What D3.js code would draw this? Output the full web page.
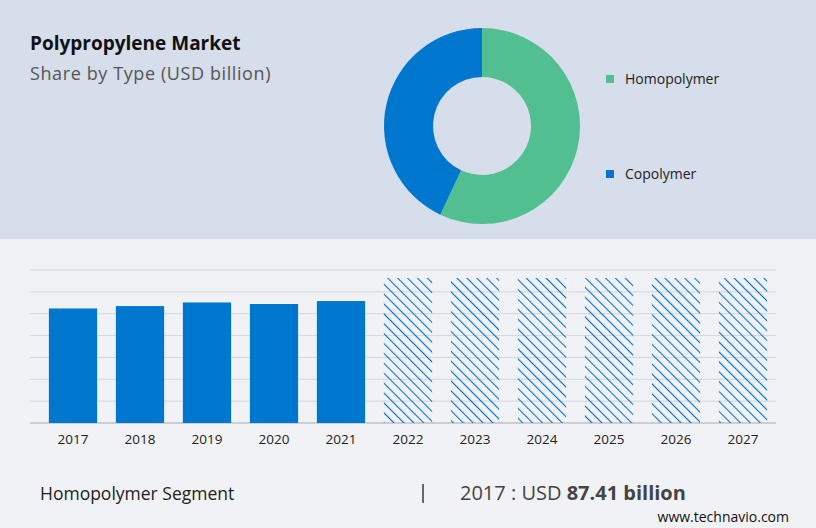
<!DOCTYPE html>
<html><head><meta charset="utf-8">
<script src="https://cdn.jsdelivr.net/npm/d3@7"></script>
<style>body{margin:0;background:#f1f2f5;font-family:"Open Sans",sans-serif}</style>
</head><body><div id="chart"></div>
<script>
// data
const years = ["2017","2018","2019","2020","2021","2022","2023","2024","2025","2026","2027"];
const values = [104.8, 107, 110.3, 108.9, 111.6, 132.7, 132.7, 132.7, 132.7, 132.7, 132.7];
const forecastFrom = "2022";
const types = ["Homopolymer", "Copolymer"];
const shares = [57, 43];
const typeColors = ["#52bf90", "#0077cf"];
const gridTicks = [0, 20, 40, 60, 80, 100, 120, 140];

const W = 816, H = 528;
const svg = d3.select("#chart").append("svg").attr("width", W).attr("height", H);

const defs = svg.append("defs");
const pat = defs.append("pattern").attr("id", "hatch").attr("patternUnits", "userSpaceOnUse")
    .attr("width", 7).attr("height", 7).attr("patternTransform", "rotate(-45)");
pat.append("line").attr("x1", 0).attr("y1", 0).attr("x2", 0).attr("y2", 7)
    .attr("stroke", "#0072d0").attr("stroke-width", 2.2);

// top panel
svg.append("rect").attr("width", W).attr("height", 239).attr("fill", "#d5deea");
svg.append("rect").attr("y", 239).attr("width", W).attr("height", H - 239).attr("fill", "#f1f2f5");

svg.append("text").attr("x", 30).attr("y", 50).text("Polypropylene Market")
    .style("font-family", "'Open Sans'").style("font-weight", 700).style("font-size", "19px").attr("fill", "#111");
svg.append("text").attr("x", 30).attr("y", 80).text("Share by Type (USD billion)")
    .style("font-size", "18px").style("letter-spacing", "0.6px").attr("fill", "#555");

// donut
const pie = d3.pie().sort(null).value(d => d)(shares);
const arc = d3.arc().innerRadius(49).outerRadius(98);
svg.append("g").attr("transform", "translate(482,126)")
    .selectAll("path").data(pie).enter().append("path")
    .attr("d", arc).attr("fill", (d, i) => typeColors[i]);

const leg = svg.selectAll(".leg").data(types).enter().append("g")
    .attr("transform", (d, i) => `translate(606,${79 + i * 95})`);
leg.append("rect").attr("y", -4).attr("width", 8).attr("height", 8).attr("fill", (d, i) => typeColors[i]);
leg.append("text").attr("x", 19).attr("dy", "0.35em").text(d => d).style("font-size", "14px").attr("fill", "#222");

// bar chart
const x = d3.scaleBand().domain(years).range([39.5, 776.5]).paddingInner(0.28).paddingOuter(0.14);
const y = d3.scaleLinear().domain([0, 140]).range([423, 270]);

svg.append("g").selectAll("line").data(gridTicks).enter().append("line")
    .attr("x1", 30).attr("x2", 776).attr("y1", d => y(d)).attr("y2", d => y(d))
    .attr("stroke", d => d === 0 ? "#aaa" : "#d4d6da").attr("stroke-width", 1);

svg.append("g").selectAll("rect").data(years).enter().append("rect")
    .attr("x", d => x(d)).attr("width", x.bandwidth())
    .attr("y", (d, i) => y(values[i])).attr("height", (d, i) => y(0) - y(values[i]))
    .attr("fill", d => d >= forecastFrom ? "url(#hatch)" : "#0077cf");

const xAxis = svg.append("g").attr("transform", "translate(0,423)")
    .call(d3.axisBottom(x).tickSize(0).tickPadding(11));
xAxis.select(".domain").remove();
xAxis.selectAll("text").style("font-size", "13.5px").style("font-family", "'Open Sans'").attr("fill", "#222");

// footer
svg.append("text").attr("x", 40).attr("y", 500).text("Homopolymer Segment")
    .style("font-size", "17.5px").attr("fill", "#222");
svg.append("line").attr("x1", 423).attr("x2", 423).attr("y1", 484).attr("y2", 503)
    .attr("stroke", "#444").attr("stroke-width", 1.6);
const ft = svg.append("text").attr("x", 460).attr("y", 500).style("font-size", "20px").attr("fill", "#444");
ft.append("tspan").text("2017 : USD ");
ft.append("tspan").text("87.41 billion").style("font-weight", 700);
svg.append("text").attr("x", 789).attr("y", 522).attr("text-anchor", "end").text("www.technavio.com")
    .style("font-size", "14px").attr("fill", "#111");
</script></body></html>
